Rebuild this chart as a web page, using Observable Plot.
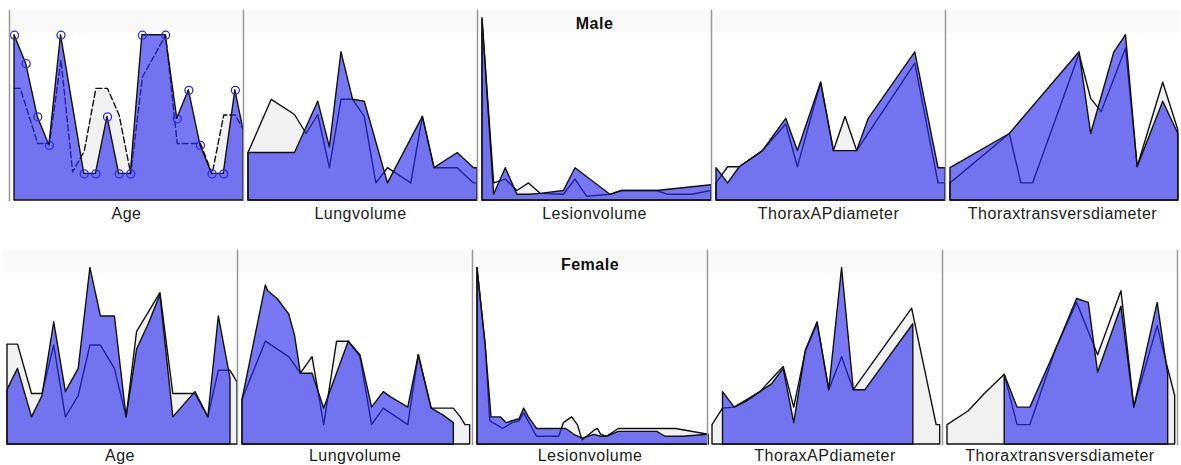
<!DOCTYPE html>
<html>
<head>
<meta charset="utf-8">
<script src="https://cdn.jsdelivr.net/npm/d3@7"></script>
<script src="https://cdn.jsdelivr.net/npm/@observablehq/plot@0.6"></script>
<style>
  html, body { margin: 0; padding: 0; background: #fff; }
  #chart { width: 1181px; height: 465px; overflow: hidden; }
  #chart svg { display: block; }
</style>
</head>
<body>
<div id="chart"></div>
<script>
// Panels, left to right
const variables = ["Age", "Lungvolume", "Lesionvolume", "ThoraxAPdiameter", "Thoraxtransversdiameter"];

// Each profile: [position along the panel, value as % of the panel's range]
// ---- Male ----
const maleAgeBlue = [[0,87],[1,72],[2,44],[3,29],[4,87],[6,14],[7,14],[8,44],[9,14],[10,14],[11,87],[13,87],[14,43],[15,58],[16,29],[17,14],[18,14],[19,58],[19.7,37]];
const maleAgeGray = [[0,59],[0.5,59],[2,30],[3,30],[4,74],[5,15],[6,26],[7,59],[8,59],[9,45],[10,14],[11,65],[13,87],[14,30],[16,30],[17,14],[18,45],[19,45],[19.7,37]];
const maleLungBlue = [[0,25],[4,25],[6,52],[7,28],[8,78],[9,53],[10,52],[12,9],[15,44],[16,17],[18,25],[19.4,17],[19.7,17]];
const maleLungGray = [[0,25],[2,53],[4,45],[5,35],[6,45],[7,17],[8,53],[9,53],[10,44],[11,9],[12,17],[14,9],[15,44],[16,17],[18,17],[19.4,9],[19.7,9]];
const maleLesionBlue = [[0,96],[1,3],[2,17],[3,3],[4,3],[5,3.5],[7,5],[8,17],[11,3],[12,5],[15,5],[19.7,8]];
const maleLesionGray = [[0,95],[1,9],[2,11],[3,5],[4,9],[5,3.5],[7,3],[8,11],[9,2],[11,3],[12,5],[15,5],[16,3],[18,3],[19.7,5]];
const maleAPBlue = [[0,17],[1,9],[2,17.5],[4,26],[6,43],[7,26],[9,62],[10.1,26],[12.1,26],[13.1,43],[17.1,78],[19.1,17],[19.7,17]];
const maleAPGray = [[0,9],[1,17.5],[2,17.5],[4,26],[6,40],[7,17.5],[9,62],[10.1,26],[11.1,44],[12.1,26],[17.1,72],[19.1,9],[19.7,9]];
const maleTransBlue = [[0,17],[5.1,35],[11.1,78],[12.1,35],[14.1,78],[15.1,87],[16.1,17.5],[18.3,52],[19.6,35]];
const maleTransGray = [[0,9],[5.1,35],[6.1,9],[7.1,9],[11.1,77],[12.1,53.5],[13,46.5],[15.1,80],[16.1,17.5],[18.3,62],[19.6,37]];

// ---- Female ----
const femaleAgeBlue = [[0,28],[0.9,39],[2.1,14],[3,25],[4,63],[5,27],[6.1,39],[7.1,91],[8,66],[9.2,66],[10.2,14],[11.1,49],[12.1,62],[13.1,77],[14.2,14],[16.1,27],[17.2,14],[18.1,66],[19.1,34]];
const femaleAgeGray = [[0,51.5],[0.9,51.5],[2.1,26],[3,26],[4,51],[5,14],[6.1,25],[7.1,51],[8,51],[9.2,39],[10.2,14],[11.1,58],[12.1,68],[13.1,78],[14.2,26],[16.1,26],[17.2,14],[18.1,38],[19.1,38],[19.7,32]];
const femaleLungBlue = [[0,23],[2,82],[2.2,79],[3,75],[4,67],[4.5,56],[5,36.5],[6,36.5],[7,18.5],[9.1,53],[10.1,46],[11.1,19],[12.1,27],[12.8,24],[14.2,19],[15.1,46],[16.2,18.5],[17.2,15],[18.1,11]];
const femaleLungGray = [[0,23],[2,53],[4,45],[5,36.5],[6,45],[7,10],[8.1,53],[9.1,53],[10.1,45],[11.1,10],[12.1,18.5],[14.2,10],[15.1,46],[16.2,18.5],[18.1,18.5],[18.7,14],[19.1,10],[19.5,10]];
const femaleLesionBlue = [[0,91],[0.7,51],[1.2,14],[2,14],[2.5,11],[3,12],[3.6,13],[4,18.5],[4.4,14],[5.1,8],[7,8],[7.6,8],[8.3,5],[9,3],[10,5],[10.6,4],[11.1,4],[12.1,6.5],[15.4,6.5],[16.1,4],[17.6,4],[19.8,5]];
const femaleLesionGray = [[0,91],[0.7,51],[1.1,12],[2.2,8],[3,11],[3.6,12],[4,16],[5.1,4],[7,4],[7.4,11],[8.1,14],[8.6,10],[9,2],[10,7],[10.3,8],[10.6,5],[11.1,4],[12.1,8],[17,8],[19.8,5]];
const femaleAPBlue = [[0.9,27],[1.9,19],[2.9,22],[4.1,27],[5.1,31],[6.1,39],[7,11],[8,48.5],[9,63],[10,28],[11.1,91],[12.1,28],[13.1,28],[17.2,62]];
const femaleAPGray = [[0,10],[0.9,18.5],[1.9,19],[4.1,27],[6.1,40],[7,19],[8,48],[9,62],[10,28],[11.1,45],[12.1,28],[17.1,70],[19.2,10],[19.5,10]];
const femaleTransBlue = [[4.9,36],[6,19],[7.1,19],[9.3,49],[11.1,75],[12.1,73],[12.9,37],[14.9,71],[16,19],[18,73],[18.9,36]];
const femaleTransGray = [[0,10],[1.8,17],[3.2,26],[4.9,36],[6,10],[7.1,10],[9.3,49],[11.1,73],[12.9,46],[14.9,79],[16,19],[18,61],[18.9,39],[19.5,25]];

const maleBlue = [maleAgeBlue, maleLungBlue, maleLesionBlue, maleAPBlue, maleTransBlue];
const maleGray = [maleAgeGray, maleLungGray, maleLesionGray, maleAPGray, maleTransGray];
const femaleBlue = [femaleAgeBlue, femaleLungBlue, femaleLesionBlue, femaleAPBlue, femaleTransBlue];
const femaleGray = [femaleAgeGray, femaleLungGray, femaleLesionGray, femaleAPGray, femaleTransGray];

const positionMax = 19.7;

function toRows(seriesList) {
  return seriesList.flatMap((s, i) => s.map(([k, v], j) => ({variable: variables[i], k, v, last: j === s.length - 1})));
}

const BLUE = "#2c2cef";
const FONT = "'Liberation Sans', Arial, Helvetica, sans-serif";

function drawRow({title, blue, gray, dashedPanel, dotPanel, height, marginTop, marginBottom, marginLeft, marginRight, tickPadding, separator, titleDy}) {
  const blueRows = toRows(blue);
  const grayRows = toRows(gray);
  const solidGray = grayRows.filter(d => d.variable !== dashedPanel);
  const dashGray = grayRows.filter(d => d.variable === dashedPanel);
  const innerH = height - marginTop - marginBottom;
  return Plot.plot({
    width: 1181,
    height, marginTop, marginBottom, marginLeft, marginRight,
    style: {fontFamily: FONT, fontSize: "16px", letterSpacing: "0.5px", color: "#222", background: "white"},
    fx: {domain: variables, padding: 0, axis: "bottom", tickSize: 0, tickPadding, label: null},
    x: {domain: [0, positionMax], insetLeft: 5, axis: null},
    y: {domain: [0, 100], axis: null},
    marks: [
      // faint header band at the top of each panel
      Plot.frame({fill: "#f9f9f9", stroke: "none", insetBottom: innerH - 22}),
      // reference profile (grey)
      Plot.areaY(solidGray, {x: "k", y: "v", fx: "variable", fill: "#f1f1f1", stroke: "#111", strokeWidth: 1.4}),
      Plot.areaY(dashGray, {x: "k", y: "v", fx: "variable", fill: "#f1f1f1"}),
      Plot.lineY(dashGray, {x: "k", y: "v", fx: "variable", stroke: "#111", strokeWidth: 1.4, strokeDasharray: "6,3"}),
      // selected profile (blue, translucent so the grey outline shows through)
      Plot.areaY(blueRows, {x: "k", y: "v", fx: "variable", fill: BLUE, fillOpacity: 0.64, stroke: "#111", strokeWidth: 1.4}),
      Plot.dot(blueRows.filter(d => d.variable === dotPanel && !d.last), {x: "k", y: "v", fx: "variable", r: 4, stroke: "#2b2bf5", strokeWidth: 1.3, fill: "none"}),
      // panel separators
      Plot.frame({anchor: separator, stroke: "#999", strokeWidth: 1.5}),
      Plot.text([{variable: "Lesionvolume", label: title}], {fx: "variable", text: "label", frameAnchor: "top", dy: titleDy, fontWeight: "bold", fontSize: 16, fill: "#111"})
    ]
  });
}

const chart = document.getElementById("chart");
chart.append(drawRow({
  title: "Male", blue: maleBlue, gray: maleGray, dashedPanel: "Age", dotPanel: "Age",
  height: 225, marginTop: 10, marginBottom: 25, marginLeft: 7, marginRight: 0,
  tickPadding: 7, separator: "left", titleDy: 7
}));
chart.append(drawRow({
  title: "Female", blue: femaleBlue, gray: femaleGray, dashedPanel: null, dotPanel: null,
  height: 240, marginTop: 25, marginBottom: 21, marginLeft: 2, marginRight: 4,
  tickPadding: 5, separator: "right", titleDy: 8
}));
</script>
</body>
</html>
